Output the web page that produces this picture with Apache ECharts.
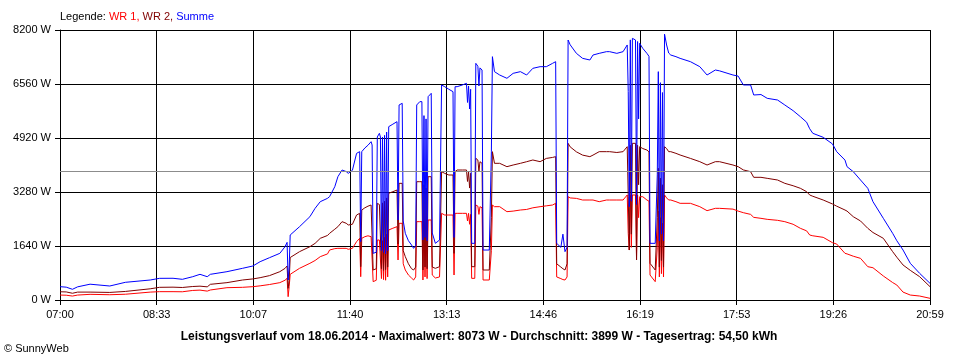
<!DOCTYPE html>
<html>
<head>
<meta charset="utf-8">
<script src="https://cdn.jsdelivr.net/npm/echarts@6/dist/echarts.min.js"></script>
<style>
html,body{margin:0;padding:0;background:#fff;}
#chart{width:960px;height:360px;}
</style>
</head>
<body>
<div id="chart"></div>
<script>
// minutes since 07:00
var times = [0,6,12,17,29,48,63,87,96,109,118,128,135,142,145,161,176,186,193,202,212,217,219,220,221,222,231,241,246,251,258,260,265,268,272,276,278,282,286,289,290,291,294,297,300,301,302,305,306,308,309,310,311,312,313,314,315,316,317,321,325,326,327,330,331,333,336,339,341,343,344,347,349,350,351,352,353,354,355,358,359,362,366,368,371,375,379,380,381,383,388,392,393,394,395,396,397,400,401,403,404,405,407,408,414,416,417,419,424,431,437,444,450,456,463,469,475,478,479,483,485,487,489,490,492,498,504,511,514,520,527,530,537,543,547,548,549,550,551,552,555,556,557,558,559,562,566,568,569,574,576,577,578,579,580,581,582,583,585,587,589,594,598,608,617,624,632,636,649,654,659,666,669,676,682,692,699,707,714,720,723,726,736,745,749,757,759,765,772,779,784,794,803,807,813,820,829,839];
var wr1 = [150,145,120,150,172,160,175,240,253,253,250,290,300,270,304,374,385,405,430,470,527,600,658,101,405,780,962,1114,1200,1316,1400,1518,1560,1569,1569,1569,1540,1569,1771,1873,708,1873,1923,1950,1923,1873,557,600,1822,1822,1800,650,1800,620,1900,600,2000,700,2126,2180,2227,1215,2329,2329,1100,911,760,668,607,700,2379,2379,2379,607,2300,700,2200,650,2430,2430,759,668,700,2632,2581,2581,2581,759,2632,2632,2632,2632,2400,2632,2300,2600,658,658,2885,2850,2600,2834,2800,607,607,1500,2885,2834,2834,2683,2700,2733,2750,2800,2834,2860,2885,2936,700,650,620,607,700,3137,3100,3086,3037,3037,3037,2986,3037,3037,3037,3037,3189,2025,1518,3189,1600,3189,3189,1215,3189,2500,3137,3137,3037,3000,759,557,1600,2700,700,2500,800,2329,700,3189,3100,3037,3037,2986,2936,2936,2834,2713,2784,2784,2760,2700,2652,2600,2510,2480,2450,2420,2379,2300,2177,2100,1974,1950,1903,1740,1700,1417,1400,1330,1265,1012,980,729,530,455,240,150,121,51];
var wr2 = [250,245,205,240,240,230,260,340,385,390,380,410,420,400,476,527,607,640,678,740,860,960,1033,354,600,1290,1468,1619,1720,1873,1960,2025,2150,2227,2379,2330,2278,2300,2581,2632,1012,2733,2800,2850,2885,2885,911,950,2936,2900,2900,950,2950,900,3000,920,3100,1000,3240,3290,3340,1700,3543,3543,1500,1316,1100,950,911,1000,3593,3593,3593,911,3500,1000,3400,950,3745,3745,1000,962,1012,3897,3846,3796,3796,1417,3900,3948,3948,3948,3600,3900,3400,3850,1012,1012,4303,4250,3900,4200,4151,911,911,2500,4505,4151,4151,4049,4100,4151,4200,4252,4201,4300,4330,4353,1100,1000,950,911,1100,4758,4650,4500,4400,4353,4400,4505,4505,4505,4480,4505,4656,3137,1518,4700,2000,4758,4758,1215,4700,3500,4656,4600,4555,4500,1114,911,2500,4000,1000,3700,1200,3500,1000,4656,4600,4505,4505,4454,4404,4300,4201,4100,4201,4201,4100,4049,3950,3897,3726,3726,3695,3644,3543,3470,3392,3290,3189,3150,3037,2916,2850,2733,2700,2530,2400,2177,2050,1873,1468,1300,1063,900,708,405];
var summe = [405,390,325,400,480,425,537,607,658,660,628,708,780,708,780,860,962,1033,1164,1285,1417,1619,1750,607,1000,1974,2227,2530,2784,2986,3088,3140,3441,3745,3948,3900,3846,3940,4454,4505,1771,4505,4616,4700,4808,4707,1417,1450,4950,5062,4950,1500,4950,1450,5000,1400,5100,1500,5264,5340,5416,2430,5923,5973,2400,2025,1800,1670,1569,1650,5923,6024,6024,1822,5600,1900,5500,1800,6175,6277,2035,1721,1822,6530,6478,6400,6327,1900,6478,6478,6530,6580,6000,6500,5800,6400,1721,1721,7187,7100,6500,7050,6985,1518,1518,4500,7390,6935,6833,6733,6884,6935,6833,7036,7086,7086,7187,7238,1721,1600,2000,1468,1600,7896,7750,7491,7339,7289,7440,7491,7542,7542,7491,7542,7745,6327,2834,7900,3000,7947,7896,2900,7850,5500,7796,7643,7491,7400,1721,1721,3800,6935,1800,6600,2000,6300,1800,8073,7745,7500,7440,7390,7339,7238,7086,6833,6985,6960,6833,6800,6530,6530,6226,6240,6125,6074,5923,5750,5567,5400,5200,5062,4941,4738,4505,4250,4049,3897,3644,3392,2986,2480,2025,1800,1518,1114,810,506];
var xTickLabels = ['07:00','08:33','10:07','11:40','13:13','14:46','16:19','17:53','19:26','20:59'];
var yMax = 8200, yStep = 1640;
var average = 3899;
var xMax = 839, xStep = 839 / 9;

function pairs(arr){ return times.map(function(t,i){ return [t, arr[i]]; }); }

var chart = echarts.init(document.getElementById('chart'), null, {renderer:'canvas'});
var lblFont = 'Liberation Sans, Arial, sans-serif';
chart.setOption({
  animation: false,
  backgroundColor: '#fff',
  grid: {left: 60, right: 30, top: 30, bottom: 60},
  xAxis: {
    type: 'value', min: 0, max: xMax, interval: xStep,
    axisLine: {show: true, lineStyle: {color: '#000', width: 1}},
    axisTick: {show: true, length: 5, lineStyle: {color: '#000', width: 1}},
    axisLabel: {color: '#000', fontSize: 11, fontFamily: lblFont, margin: 9,
      formatter: function(v){ var i = Math.round(v / xStep); return xTickLabels[i] || ''; }},
    splitLine: {show: true, lineStyle: {color: '#000', width: 1}}
  },
  yAxis: {
    type: 'value', min: 0, max: yMax, interval: yStep,
    axisLine: {show: true, lineStyle: {color: '#000', width: 1}},
    axisTick: {show: true, length: 5, lineStyle: {color: '#000', width: 1}},
    axisLabel: {color: '#000', fontSize: 11, fontFamily: lblFont, margin: 9,
      formatter: function(v){ return String(Math.round(v)) + ' W'; }},
    splitLine: {show: true, lineStyle: {color: '#000', width: 1}}
  },
  series: [
    {name: 'WR 1', type: 'line', data: pairs(wr1), symbol: 'none', lineStyle: {color: '#ff0000', width: 1}, itemStyle: {color: '#ff0000'}},
    {name: 'WR 2', type: 'line', data: pairs(wr2), symbol: 'none', lineStyle: {color: '#800000', width: 1}, itemStyle: {color: '#800000'}},
    {name: 'Summe', type: 'line', data: pairs(summe), symbol: 'none', lineStyle: {color: '#0000ff', width: 1}, itemStyle: {color: '#0000ff'},
      markLine: {silent: true, symbol: ['none','none'], label: {show: false},
        lineStyle: {color: '#8c8c8c', type: 'solid', width: 1}, data: [{yAxis: average}]}}
  ],
  graphic: [
    {type: 'text', left: 60, top: 11, style: {
      text: '{k|Legende: }{a|WR 1, }{b|WR 2, }{c|Summe}',
      rich: {
        k: {fill: '#000', fontSize: 11, fontFamily: lblFont},
        a: {fill: '#ff0000', fontSize: 11, fontFamily: lblFont},
        b: {fill: '#800000', fontSize: 11, fontFamily: lblFont},
        c: {fill: '#0000ff', fontSize: 11, fontFamily: lblFont}
      }}},
    {type: 'text', x: 479, y: 337, style: {
      text: 'Leistungsverlauf vom 18.06.2014 - Maximalwert: 8073 W - Durchschnitt: 3899 W - Tagesertrag: 54,50 kWh',
      fill: '#000', fontSize: 12, fontWeight: 'bold', fontFamily: lblFont, align: 'center', verticalAlign: 'middle'}},
    {type: 'text', left: 4, top: 343, style: {text: '\u00a9 SunnyWeb', fill: '#000', fontSize: 11, fontFamily: lblFont}}
  ]
});
</script>
</body>
</html>
